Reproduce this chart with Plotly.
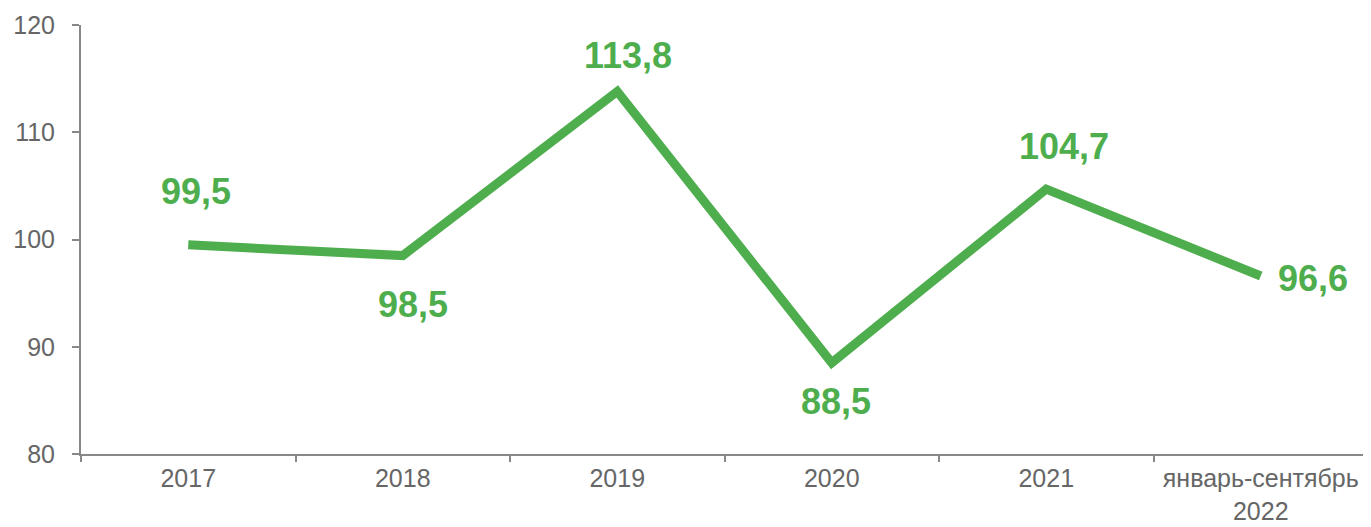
import plotly.graph_objects as go

categories = ["2017", "2018", "2019", "2020", "2021", "январь-сентябрь<br>2022"]
values = [99.5, 98.5, 113.8, 88.5, 104.7, 96.6]
labels = ["99,5", "98,5", "113,8", "88,5", "104,7", "96,6"]

# label offsets (pixels) relative to each point
label_dx = [8, 10, 11, 4, 18, 52]
label_dy = [53, -49, 36, -39, 43, -3]

GREEN = "#4EAE4E"
GREY_TXT = "#666666"
GREY_LINE = "#888888"
FONT = "Liberation Sans, Arial, sans-serif"

fig = go.Figure()
fig.add_trace(go.Scatter(
    x=categories, y=values, mode="lines",
    line=dict(color=GREEN, width=9),
    hoverinfo="skip",
))

for i, (v, t, dx, dy) in enumerate(zip(values, labels, label_dx, label_dy)):
    fig.add_annotation(
        x=i, y=v, xref="x", yref="y", text=f"<b>{t}</b>", showarrow=False,
        xshift=dx, yshift=dy,
        font=dict(family=FONT, size=36, color=GREEN),
    )

fig.update_layout(
    width=1363, height=519,
    margin=dict(l=73, r=3, t=17, b=73),
    plot_bgcolor="white", paper_bgcolor="white",
    showlegend=False,
    font=dict(family=FONT, color=GREY_TXT),
)
fig.update_xaxes(
    type="category", range=[-0.5, 5.5], automargin=False,
    showline=True, linecolor=GREY_LINE, linewidth=2,
    ticks="outside", tickson="boundaries", ticklen=6, tickcolor=GREY_LINE, tickwidth=2,
    showgrid=False, zeroline=False, ticklabelstandoff=1,
    tickfont=dict(family=FONT, size=25, color=GREY_TXT),
)
fig.update_yaxes(
    range=[80, 120], dtick=10, automargin=False,
    showline=True, linecolor=GREY_LINE, linewidth=2,
    ticks="outside", ticklen=7, tickcolor=GREY_LINE, tickwidth=2,
    showgrid=False, zeroline=False, ticklabelstandoff=12,
    tickfont=dict(family=FONT, size=25, color=GREY_TXT),
)

fig.write_html("out.html")
